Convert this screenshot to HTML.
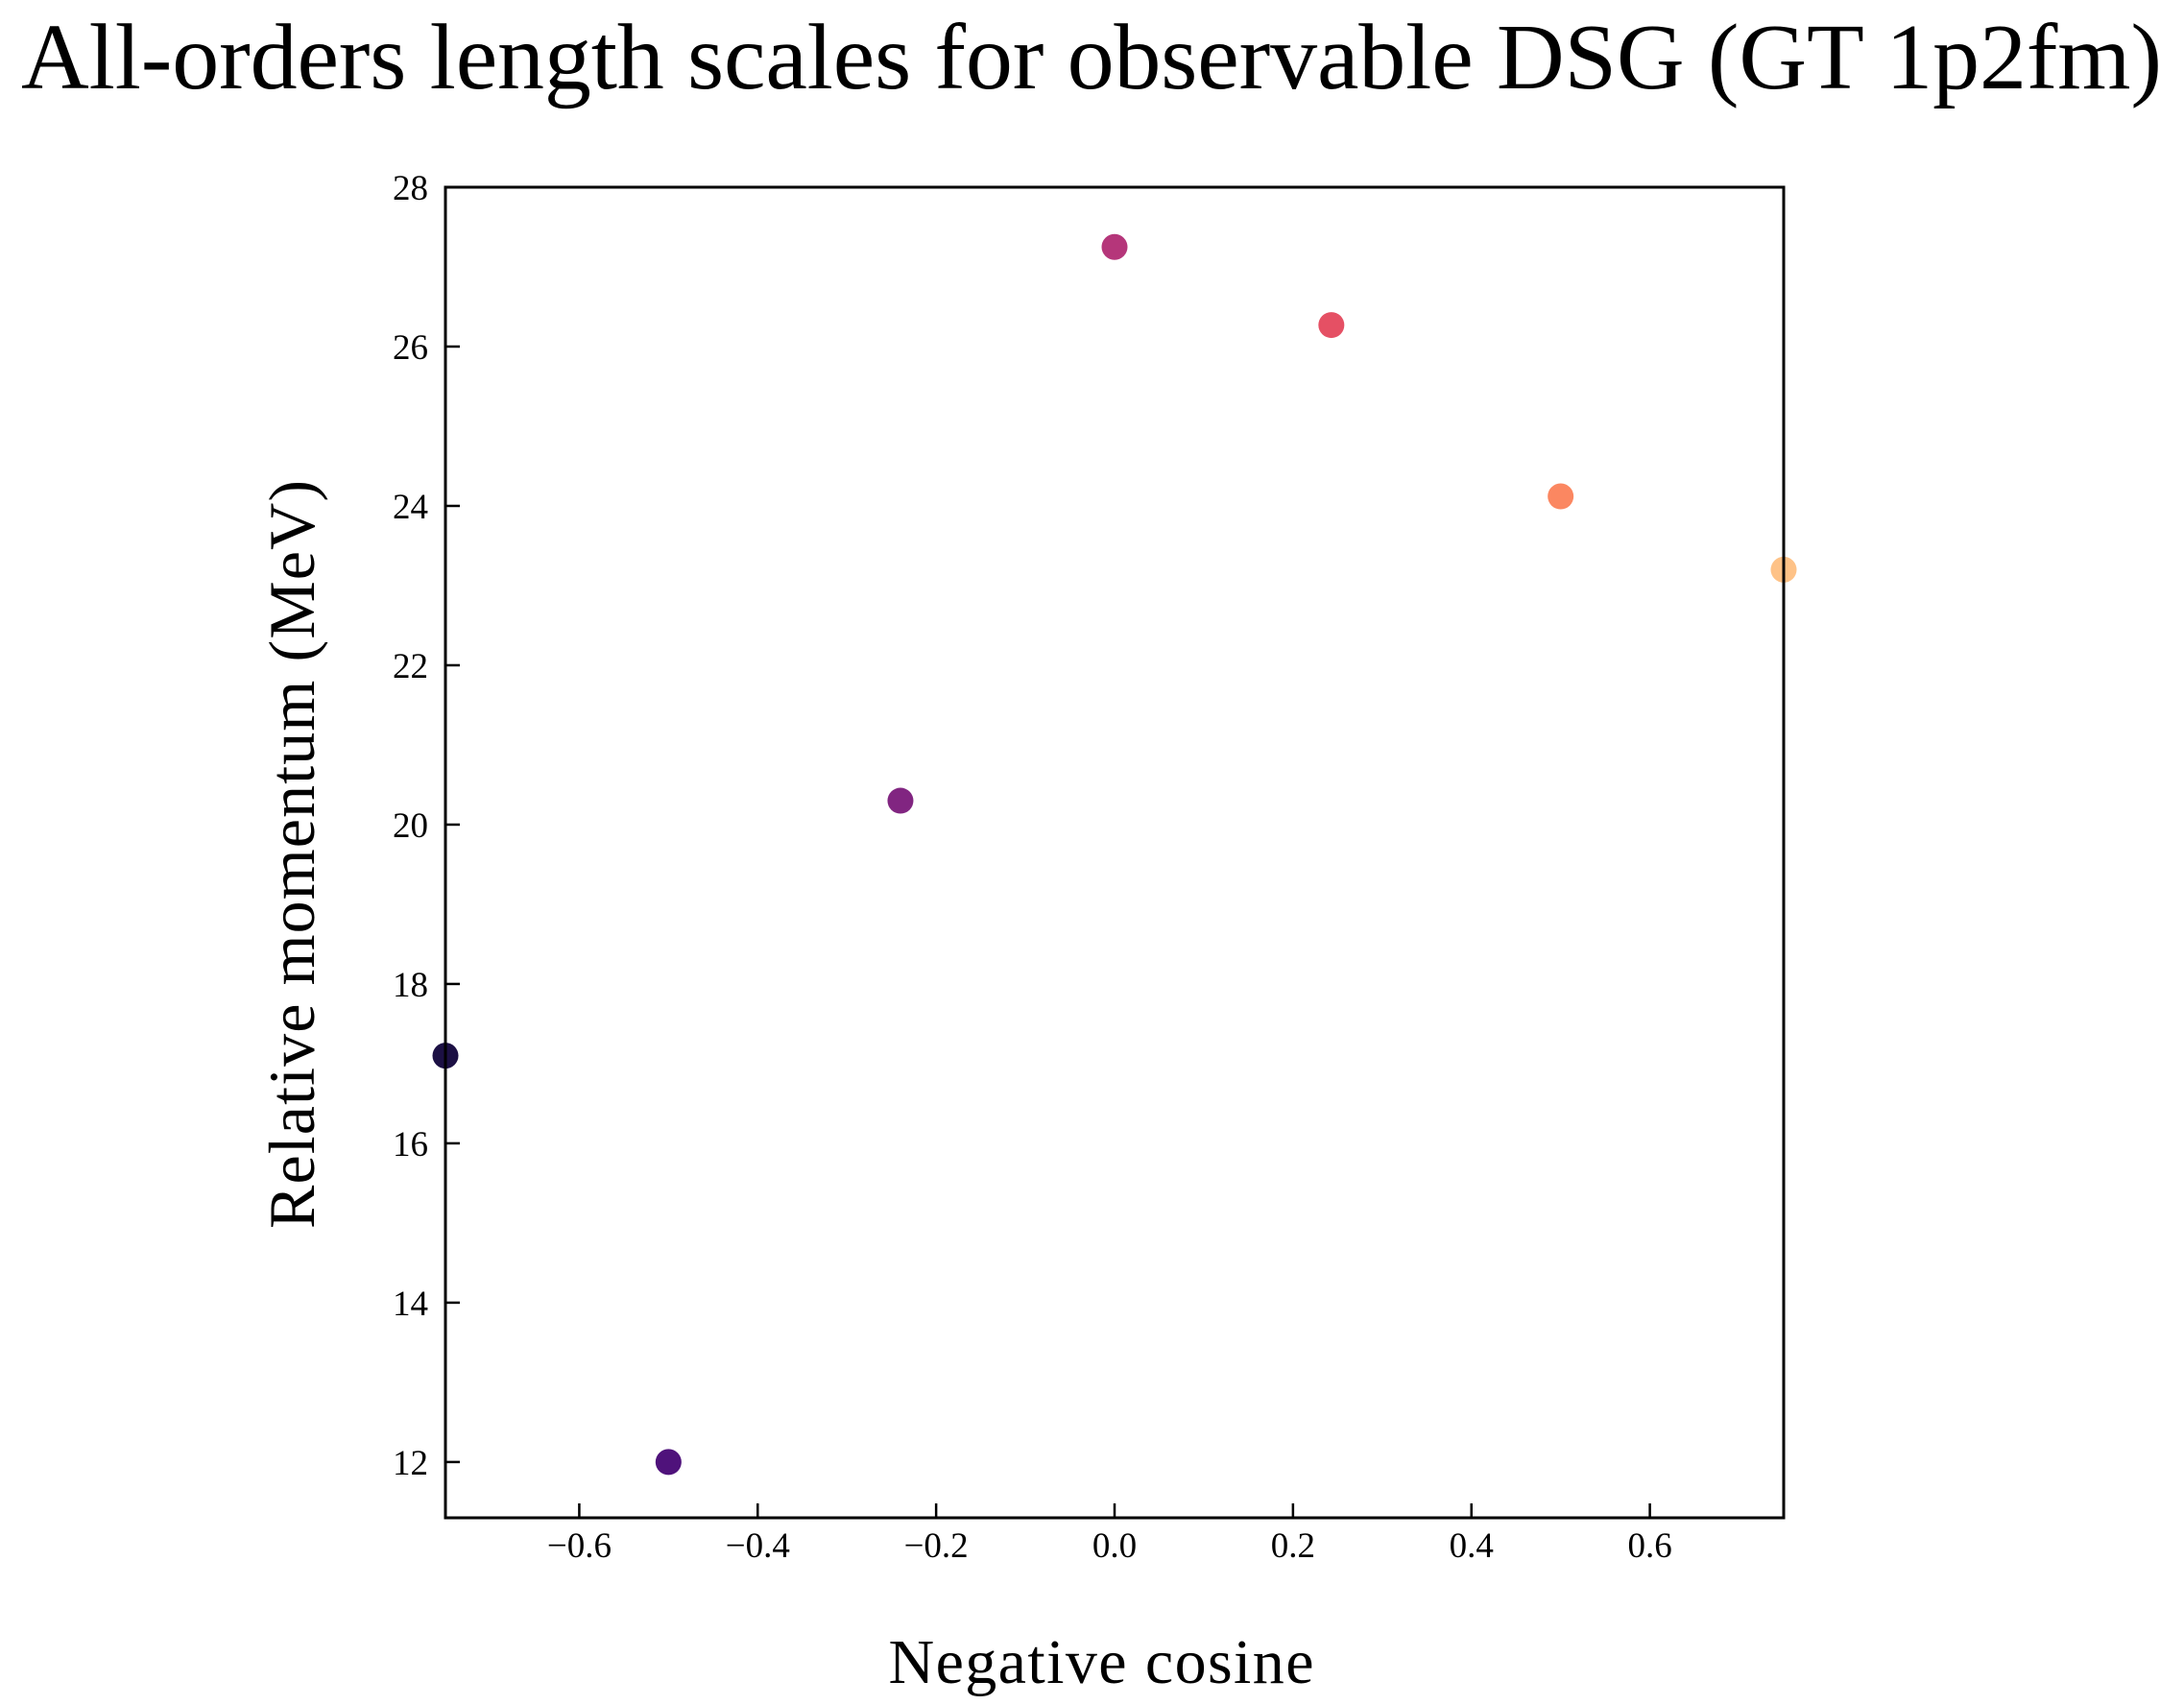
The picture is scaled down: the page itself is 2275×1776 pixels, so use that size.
<!DOCTYPE html>
<html><head><meta charset="utf-8"><style>
html,body{margin:0;padding:0;background:#fff;}
svg{display:block;font-family:"Liberation Serif",serif;}
</style></head><body>
<svg id="chart" width="2275" height="1776" viewBox="0 0 2275 1776" xmlns="http://www.w3.org/2000/svg">
<rect width="2275" height="1776" fill="#fff"/>
<text x="1137" y="92" font-size="98" text-anchor="middle" textLength="2230">All-orders length scales for observable DSG (GT 1p2fm)</text>
<text x="1147" y="1753" font-size="66" text-anchor="middle" textLength="443">Negative cosine</text>
<text transform="translate(327,890) rotate(-90)" font-size="68" text-anchor="middle" textLength="780">Relative momentum (MeV)</text>
<g id="ticks"></g>
<g id="points"></g>
<rect x="464" y="195" width="1394" height="1386" fill="none" stroke="#000" stroke-width="3"/>
</svg>
<script>
const xValues = [-0.75, -0.5, -0.24, 0.0, 0.243, 0.5, 0.75];
const yValues = [17.1, 12.0, 20.3, 27.25, 26.27, 24.12, 23.2];
const pointColors = ["#1c1044", "#4f127b", "#812581", "#b5367a", "#e55064", "#fb8761", "#fec287"];
const xTicks = [-0.6, -0.4, -0.2, 0.0, 0.2, 0.4, 0.6];
const xTickLabels = ["\u22120.6", "\u22120.4", "\u22120.2", "0.0", "0.2", "0.4", "0.6"];
const yTicks = [12, 14, 16, 18, 20, 22, 24, 26, 28];
const yTickLabels = ["12", "14", "16", "18", "20", "22", "24", "26", "28"];

const L = 464, R = 1858, T = 195, B = 1581;
const xMin = -0.75, xMax = 0.75, yMin = 11.3, yMax = 28;
function xs(v){ return L + (v - xMin) / (xMax - xMin) * (R - L); }
function ys(v){ return B - (v - yMin) / (yMax - yMin) * (B - T); }
const NS = "http://www.w3.org/2000/svg";
const tg = document.getElementById('ticks');
const pg = document.getElementById('points');

xTicks.forEach((t, i) => {
  const x = xs(t);
  const ln = document.createElementNS(NS, 'line');
  ln.setAttribute('x1', x); ln.setAttribute('x2', x);
  ln.setAttribute('y1', B); ln.setAttribute('y2', B - 15);
  ln.setAttribute('stroke', '#000'); ln.setAttribute('stroke-width', '2.5');
  
  
  tg.appendChild(ln);
  const tx = document.createElementNS(NS, 'text');
  tx.setAttribute('x', x); tx.setAttribute('y', 1622);
  tx.setAttribute('font-size', '37'); tx.setAttribute('text-anchor', 'middle');
  tx.textContent = xTickLabels[i];
  
  
  tg.appendChild(tx);
});
yTicks.forEach((t, i) => {
  const y = ys(t);
  const ln = document.createElementNS(NS, 'line');
  ln.setAttribute('x1', L); ln.setAttribute('x2', L + 15);
  ln.setAttribute('y1', y); ln.setAttribute('y2', y);
  ln.setAttribute('stroke', '#000'); ln.setAttribute('stroke-width', '2.5');
  
  
  tg.appendChild(ln);
  const tx = document.createElementNS(NS, 'text');
  tx.setAttribute('x', 446); tx.setAttribute('y', y + 13);
  tx.setAttribute('font-size', '37'); tx.setAttribute('text-anchor', 'end');
  tx.textContent = yTickLabels[i];
  
  
  tg.appendChild(tx);
});
xValues.forEach((v, i) => {
  const c = document.createElementNS(NS, 'circle');
  c.setAttribute('cx', xs(v)); c.setAttribute('cy', ys(yValues[i]));
  c.setAttribute('r', 13.5); c.setAttribute('fill', pointColors[i]);
  
  
  pg.appendChild(c);
});
</script>
</body></html>
